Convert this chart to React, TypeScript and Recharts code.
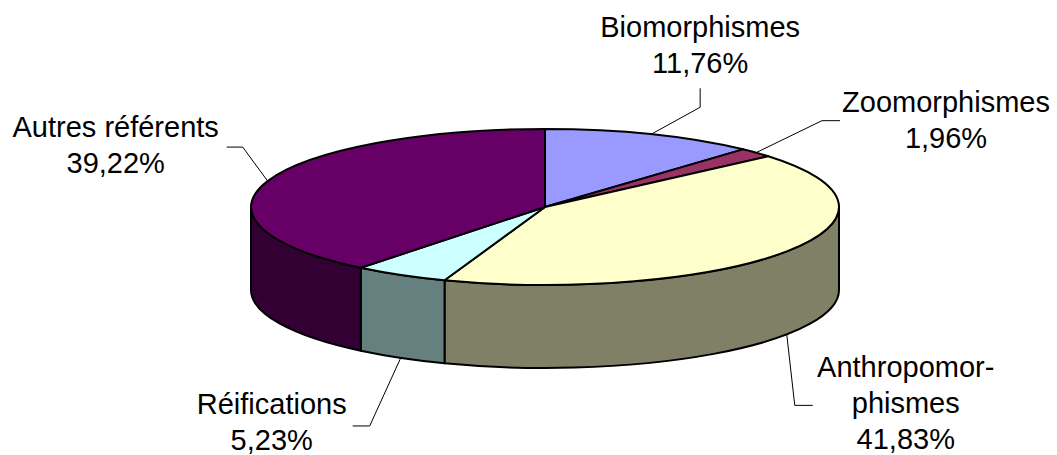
import { PieChart, Pie } from 'recharts';

// slices, clockwise from 12 o'clock
const categories = ['Biomorphismes', 'Zoomorphismes', 'Anthropomor-\nphismes', 'Réifications', 'Autres référents'];
const shares = [11.76, 1.96, 41.83, 5.23, 39.22];
const topColors = ['#9999FF', '#993366', '#FFFFCC', '#CCFFFF', '#660066'];
const sideColors = ['#4D4D80', '#4D1A33', '#808066', '#668080', '#330033'];

// leader line elbow / end and first text baseline, as offsets from the slice anchor
const labelLayout = [
    { elbow: [49, -27], end: [49, -46], text: [49, -97] },
    { elbow: [66, -32], end: [84, -32], text: [190, -41] },
    { elbow: [8, 71], end: [26, 71], text: [119, 43] },
    { elbow: [-31, 68], end: [-48, 68], text: [-129, 56] },
    { elbow: [-25, -34], end: [-41, -34], text: [-152, -44] },
];

const data = categories.map((name, i) => ({ name, value: shares[i], fill: topColors[i] }));

const RAD = Math.PI / 180;
const TILT = 78 / 294; // vertical squash of the disc
const DEPTH = 83;
const FONT = '"Liberation Sans", Arial, sans-serif';

const pt = (cx: number, cy: number, rx: number, ry: number, a: number) => [
    cx + rx * Math.cos(a * RAD),
    cy - ry * Math.sin(a * RAD),
];

const Slice3D = (props: any) => {
    const { cx, cy, outerRadius, startAngle, endAngle, index } = props;
    const rx = outerRadius;
    const ry = rx * TILT;
    const hi = Math.max(startAngle, endAngle);
    const lo = Math.min(startAngle, endAngle);
    const [x1, y1] = pt(cx, cy, rx, ry, hi);
    const [x2, y2] = pt(cx, cy, rx, ry, lo);
    const large = hi - lo > 180 ? 1 : 0;
    const top = `M${cx},${cy} L${x1},${y1} A${rx},${ry} 0 ${large} 1 ${x2},${y2} Z`;

    // front wall only where the rim faces the viewer
    const s = Math.min(hi, 0);
    const e = Math.max(lo, -180);
    let side = null;
    if (s > e) {
        const [sx, sy] = pt(cx, cy, rx, ry, s);
        const [ex, ey] = pt(cx, cy, rx, ry, e);
        const d = `M${sx},${sy} A${rx},${ry} 0 0 1 ${ex},${ey} L${ex},${ey + DEPTH} A${rx},${ry} 0 0 0 ${sx},${sy + DEPTH} Z`;
        side = <path d={d} fill={sideColors[index]} stroke="#000" strokeWidth={2} strokeLinejoin="round" />;
    }

    return (
        <g>
            {side}
            <path d={top} fill={topColors[index]} stroke="#000" strokeWidth={2} strokeLinejoin="round" />
        </g>
    );
};

const renderLabel = (props: any) => {
    const { cx, cy, outerRadius, midAngle, index, value, name } = props;
    const rx = outerRadius;
    const ry = rx * TILT;
    let [ax, ay] = pt(cx, cy, rx, ry, midAngle);
    if (Math.sin(midAngle * RAD) < 0) ay += DEPTH;
    const lay = labelLayout[index];
    const lines = [...String(name).split('\n'), `${Number(value).toFixed(2).replace('.', ',')}%`];
    return (
        <g key={`lbl-${index}`}>
            <polyline
                points={`${ax},${ay} ${ax + lay.elbow[0]},${ay + lay.elbow[1]} ${ax + lay.end[0]},${ay + lay.end[1]}`}
                fill="none"
                stroke="#000"
                strokeWidth={1}
            />
            {lines.map((t, j) => (
                <text
                    key={j}
                    x={ax + lay.text[0]}
                    y={ay + lay.text[1] + j * 36}
                    textAnchor="middle"
                    fontFamily={FONT}
                    fontSize={29}
                    fill="#000"
                >
                    {t}
                </text>
            ))}
        </g>
    );
};

const App = () => {
    return (
        <div style={{ position: 'absolute', left: 0, top: 0, width: 1057, height: 455, background: '#fff' }}>
            <PieChart width={1057} height={455} margin={{ top: 0, right: 0, bottom: 0, left: 0 }}>
                <Pie
                    data={data}
                    dataKey="value"
                    nameKey="name"
                    cx={545}
                    cy={207}
                    outerRadius={294}
                    startAngle={90}
                    endAngle={-270}
                    stroke="#000"
                    shape={Slice3D}
                    inactiveShape={Slice3D}
                    activeShape={Slice3D}
                    label={renderLabel}
                    labelLine={false}
                    isAnimationActive={false}
                />
            </PieChart>
        </div>
    );
};

export default App;
